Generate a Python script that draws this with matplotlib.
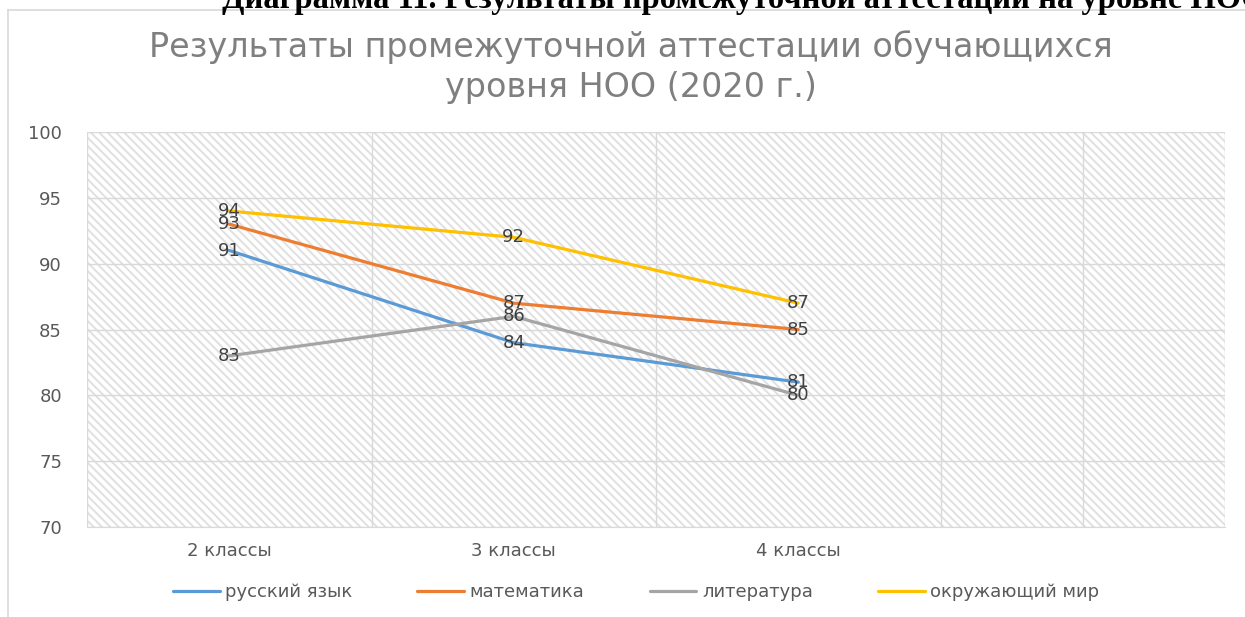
import matplotlib
matplotlib.use('Agg')
import matplotlib.pyplot as plt
from matplotlib.patches import Rectangle
from matplotlib.lines import Line2D

classes = ['2 классы', '3 классы', '4 классы']
russian = [91, 84, 81]
math = [93, 87, 85]
literature = [83, 86, 80]
world = [94, 92, 87]
series_names = ['русский язык', 'математика', 'литература', 'окружающий мир']
colours = ['#5B9BD5', '#ED7D31', '#A5A5A5', '#FFC000']
yticks = [70, 75, 80, 85, 90, 95, 100]

plt.rcParams['font.family'] = ['DejaVu Sans']
plt.rcParams['hatch.linewidth'] = 1.4

fig = plt.figure(figsize=(12.45, 6.17), dpi=100)
ax = fig.add_axes([87/1245, 1 - 527/617, (1225 - 87)/1245, (527 - 132)/617])

# hatched plot area
ax.add_patch(Rectangle((0, 0), 1, 1, transform=ax.transAxes, facecolor='white',
                       edgecolor='#e0e0e0', hatch='\\\\\\\\', linewidth=0, zorder=0))

x = list(range(len(classes)))
for vals, name, c in zip([russian, math, literature, world], series_names, colours):
    ax.plot(x, vals, color=c, linewidth=2.3, label=name, zorder=3, solid_capstyle='round')
    for xi, v in zip(x, vals):
        ax.text(xi, v, str(v), ha='center', va='center', fontsize=13,
                color='#404040', zorder=4)

ax.set_xlim(-0.5, 3.5)
ax.set_ylim(70, 100)
ax.set_yticks(yticks)
ax.set_xticks(x)
ax.set_xticklabels(classes)
ax.set_xticks([-0.5, 0, 0.5, 1, 1.5, 2, 2.5, 3, 3.5], minor=True)
ax.grid(True, which='minor', axis='x', color='#d9d9d9', linewidth=1, zorder=1)
ax.grid(True, which='major', axis='y', color='#d9d9d9', linewidth=1, zorder=1)
ax.tick_params(which='both', length=0, labelsize=13, labelcolor='#595959')
ax.tick_params(axis='y', pad=18)
ax.tick_params(axis='x', pad=11)
for s in ['left', 'right', 'top']:
    ax.spines[s].set_visible(False)
ax.spines['bottom'].set_color('#d9d9d9')
ax.set_axisbelow(True)

fig.text(631/1245, 1 - 67/617, 'Результаты промежуточной аттестации обучающихся\nуровня НОО (2020 г.)',
         ha='center', va='center', fontsize=24, color='#7f7f7f', linespacing=1.3)

# document caption cut off at the top
fig.text(222/1245, 1 - 8/617, 'Диаграмма 11. Результаты промежуточной аттестации на уровне НОО',
         ha='left', va='baseline', fontsize=23.5, fontweight='bold', color='black',
         family=['Liberation Serif', 'DejaVu Serif'])

# chart frame
fig.add_artist(Line2D([8/1245, 8/1245], [0, 1 - 10/617], color='#d9d9d9', linewidth=1.2))
fig.add_artist(Line2D([8/1245, 1], [1 - 10/617, 1 - 10/617], color='#d9d9d9', linewidth=1.2))

fig.legend(loc='center', bbox_to_anchor=(636/1245, 1 - 592/617), ncol=4, frameon=False,
           fontsize=13, labelcolor='#595959', handlelength=2.6, columnspacing=3.6,
           handletextpad=0.3)

fig.savefig('out.png', dpi=100)
